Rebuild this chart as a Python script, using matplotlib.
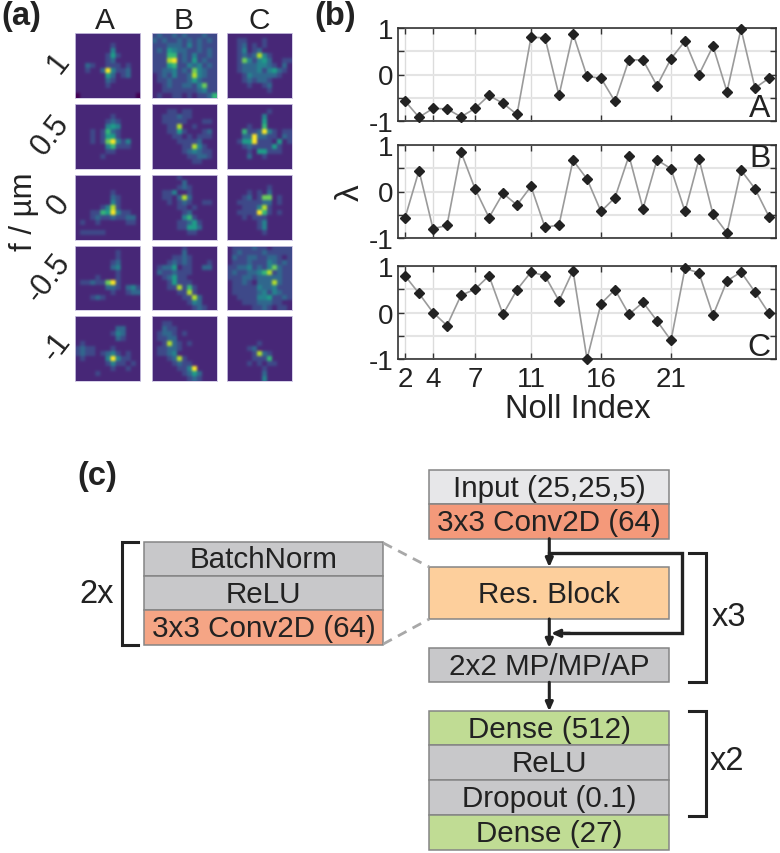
#!/usr/bin/env python3
"""Figure with PSF crops (a), Zernike coefficients (b) and the network layout (c)."""

import numpy as np
import matplotlib
matplotlib.use('Agg')
import matplotlib.pyplot as plt
from matplotlib.patches import Rectangle

plt.rcParams['font.family'] = ['Liberation Sans', 'DejaVu Sans']

W, H = 780, 854

# panel (b): coefficient per Noll index, 2 to 28
noll = list(range(2, 29))
coef_a = [-0.57, -0.92, -0.73, -0.74, -0.91, -0.73, -0.45, -0.62, -0.86, 0.80, 0.79, -0.45, 0.88, -0.04,
          -0.08, -0.58, 0.32, 0.31, -0.24, 0.34, 0.72, 0.00, 0.61, -0.37, 0.98, -0.29, -0.08]
coef_b = [-0.57, 0.45, -0.80, -0.73, 0.85, 0.06, -0.56, -0.04, -0.29, 0.11, -0.77, -0.72, 0.67, 0.27,
          -0.43, -0.13, 0.77, -0.37, 0.68, 0.49, -0.43, 0.70, -0.49, -0.89, 0.46, 0.06, -0.54]
coef_c = [0.79, 0.41, 0.00, -0.28, 0.37, 0.50, 0.79, -0.04, 0.49, 0.87, 0.79, 0.25, 0.90, -1.00,
          0.19, 0.49, -0.04, 0.22, -0.18, -0.60, 0.95, 0.85, -0.06, 0.68, 0.87, 0.44, -0.02]
noll_ticks = [2, 4, 7, 11, 16, 21]

defocus_labels = ['1', '0.5', '0', '-0.5', '-1']
column_labels = ['A', 'B', 'C']

crop_a = [
    ["1111111111111", "1111111111111", "1111111211111", "1111111411111", "1111112521111",
     "1111112311111", "1132112221211", "1121139422311", "1111115312311", "1111113211111",
     "1111112111111", "1111111111111", "0111111111110"],
    ["1111111111111", "1111111111111", "1111111211111", "1111112321111", "1111114541111",
     "1112126321111", "1112125521111", "1112127942411", "1111114622211", "1111112211111",
     "1111121111111", "1111111111111", "1111111111111"],
    ["1111111111111", "1111111111111", "1111111111111", "1111111211111", "1111111321111",
     "1111111421111", "1111124821111", "1112265942211", "1112322322331", "1211211111221",
     "1111111111111", "1222221111111", "1111111111111"],
    ["1111111111111", "1111111121111", "1111111121111", "1111111231111", "1111111341111",
     "1111111121111", "1111211121111", "1223227921111", "1111113321342", "1111111211233",
     "1112321111111", "1111111111111", "1111111111111"],
    ["1111111111111", "1111111111111", "1111111133111", "1111111243111", "1111111132111",
     "1211111111111", "2322111211111", "2322123421211", "1211114942211", "1111112422121",
     "1111111211211", "1111211111111", "1111111111111"],
]
crop_b = [
    ["2322323222322", "3232232323232", "2223332423222", "2325433223232", "2226623242232",
     "2228923252322", "2225622434232", "2233423274322", "1232422384322", "1223222353222",
     "1123223324722", "1122222223422", "1211221212236"],
    ["1111111111111", "1112212211111", "1122232211111", "1122222111221", "1112281121111",
     "1112252111231", "1111221212221", "1111122223111", "1111112284211", "1111112343221",
     "1111111223321", "1111111122111", "1111111111111"],
    ["1111121111111", "1111113111111", "1111123211111", "1122411211111", "1122138311111",
     "1112123211221", "1111122121111", "1111112311111", "1111114621111", "1111122352111",
     "1111122553111", "1111111221111", "1111111111111"],
    ["1111112111111", "1111113111111", "1111223211111", "1112323211121", "1233512211331",
     "1322322211111", "1123522111111", "1112522211111", "1112282621111", "1111122821111",
     "1111112283111", "1111111243111", "1111111123211"],
    ["1111111111111", "1122111111111", "1132211111111", "1233212111111", "1223311111111",
     "1128321211111", "1223321111111", "1223411111111", "1112382111111", "1111232211111",
     "1111122491111", "1111112353111", "1111111232111"],
]
crop_c = [
    ["1111111111111", "1122111211111", "1123121211111", "1124123111111", "1123238421111",
     "1127424531122", "1123334432131", "1123334245321", "1112433333211", "1112323321111",
     "1111211231111", "1111111121111", "1111111111111"],
    ["1111111111111", "1111111121111", "1111111411111", "1111111511111", "1111211611111",
     "1116223942122", "1113393322132", "1125592221512", "1112322225211", "1111215522211",
     "1111311211111", "1111111111111", "1111111111111"],
    ["1111111111111", "1111111111111", "1111111121111", "1111212131111", "1112312771211",
     "1122222331211", "1112224821111", "1122229621211", "1112122211111", "1111112411111",
     "1111112411111", "1111111211111", "1111111111111"],
    ["1222232212222", "1232222322222", "1322332233212", "1222322243232", "2233423247322",
     "2322334682322", "2223323333322", "1223213338322", "1222224334222", "1222223424322",
     "1122224452232", "1112223332211", "1111122321221"],
    ["1111111111111", "1111111111111", "1111111111111", "1111111111111", "1111111111111",
     "1111112111111", "1111231111111", "1111128321111", "1111122261111", "1111212122111",
     "1111111211111", "1111111311111", "1111111411111"],
]

# panel (c): layer names
left_layers = ['BatchNorm', 'ReLU', '3x3 Conv2D (64)']
top_layers = ['Input (25,25,5)', '3x3 Conv2D (64)']
bottom_layers = ['Dense (512)', 'ReLU', 'Dropout (0.1)', 'Dense (27)']


def px_axes(fig, left, top, right, bottom):
    """Axes placed with pixel coordinates measured from the top left"""
    return fig.add_axes([left / W, 1 - bottom / H, (right - left) / W, (bottom - top) / H])


def draw_crop(fig, rows, box):
    ax = px_axes(fig, *box)
    img = np.array([[int(c) for c in row] for row in rows]) / 9
    # doubling the cells keeps the bright spots as wide as in the reference
    img = np.kron(img, np.ones((2, 2)))
    ax.imshow(img, cmap='viridis', vmin=0, vmax=1, interpolation='bicubic', aspect='auto')
    ax.set_xticks([])
    ax.set_yticks([])
    for s in ax.spines.values():
        s.set_color('#cfc8e4')
        s.set_linewidth(0.6)


def draw_coef(fig, values, box, name, name_y, show_x=False):
    ax = px_axes(fig, *box)
    ax.plot(noll, values, color='#9a9a9a', lw=1.2, marker='D', ms=5.5, mfc='#222222', mec='#222222',
            clip_on=False, zorder=3)
    ax.set_xlim(1.5, 28.5)
    ax.set_ylim(-1, 1)
    ax.set_xticks(noll_ticks)
    ax.set_yticks([-1, -0.5, 0, 0.5, 1])
    ax.set_yticklabels(['-1', '', '0', '', '1'], fontsize=20, color='#222222')
    ax.grid(True, axis='x', color='#dcdcdc', lw=1)
    ax.grid(True, axis='y', color='#e4e4e4', lw=1.5)
    ax.set_axisbelow(True)
    ax.tick_params(direction='in', length=4, width=1, top=True, right=True, color='#333333',
                   labelbottom=show_x, labelsize=20, labelcolor='#222222', pad=3)
    ax.tick_params(axis='x', pad=5)
    for s in ax.spines.values():
        s.set_color('#333333')
        s.set_linewidth(1.2)
    ax.text(0.985, name_y, name, transform=ax.transAxes, fontsize=23, color='#222222',
            ha='right', va='center')
    return ax


def draw_stack(ax, names, colors, x0, x1, edges):
    for name, color, top, bottom in zip(names, colors, edges[:-1], edges[1:]):
        ax.add_patch(Rectangle((x0, top), x1 - x0, bottom - top, fc=color, ec='#858585', lw=1.1))
        ax.text((x0 + x1) / 2, (top + bottom) / 2 + 0.5, name, fontsize=21.3, color='#222222',
                ha='center', va='center')


def arrow(ax, start, end, lw=2.2):
    ax.annotate('', xy=end, xytext=start,
                arrowprops=dict(arrowstyle='-|>,head_width=0.22,head_length=0.5', color='#222222',
                                lw=lw, shrinkA=0, shrinkB=0))


def main():
    fig = plt.figure(figsize=(W / 100, H / 100), dpi=100, facecolor='white')

    # background layer in pixels, used for panel (c) and free labels
    bg = fig.add_axes([0, 0, 1, 1])
    bg.set_xlim(0, W)
    bg.set_ylim(H, 0)
    bg.axis('off')

    # panel (a)
    col_x = [(75.3, 140.3), (152, 216.7), (227.3, 292)]
    row_y = [(34.3, 99.3), (105.3, 170), (176, 240.7), (246.7, 311.3), (317.3, 382)]
    for crops, (x0, x1) in zip([crop_a, crop_b, crop_c], col_x):
        for rows, (y0, y1) in zip(crops, row_y):
            draw_crop(fig, rows, (x0, y0, x1, y1))

    for name, x in zip(column_labels, [105, 184, 259]):
        bg.text(x, 21, name, fontsize=21.5, color='#222222', ha='center', va='center')
    for name, x, y in zip(defocus_labels, [59, 50, 59, 49, 57], [63, 135, 205, 278, 347]):
        bg.text(x, y, name, fontsize=22, color='#222222', rotation=52, ha='center', va='center',
                rotation_mode='anchor')
    bg.text(24, 212, 'f / µm', fontsize=22.4, color='#222222', rotation=90, ha='center', va='center')

    # panel (b)
    draw_coef(fig, coef_a, (398, 29, 776, 122), 'A', 0.14)
    draw_coef(fig, coef_b, (398, 146, 776, 239), 'B', 0.86)
    draw_coef(fig, coef_c, (398, 267, 776, 360), 'C', 0.13, show_x=True)
    bg.text(350, 193, 'λ', fontsize=24, color='#222222', rotation=90, ha='center', va='center')
    bg.text(578, 410, 'Noll Index', fontsize=23.6, color='#222222', ha='center', va='center')

    # panel letters
    for name, x, y in zip(['(a)', '(b)', '(c)'], [21, 335, 97], [17, 17, 477]):
        bg.text(x, y, name, fontsize=23.5, fontweight='bold', color='#222222', ha='center', va='center')

    # panel (c): boxes
    grey, conv, green = '#c8c8ca', '#f4997a', '#c0dc94'
    draw_stack(bg, left_layers, [grey, grey, '#f5a585'], 144, 383.3, [542.7, 577, 611.3, 645.7])
    draw_stack(bg, top_layers, ['#e7e7e9', conv], 429.3, 668.7, [471.3, 505.3, 539.7])
    draw_stack(bg, ['Res. Block'], ['#fdcf9c'], 429.3, 668.7, [568.3, 620])
    draw_stack(bg, ['2x2 MP/MP/AP'], [grey], 429.3, 668.7, [649, 683.3])
    draw_stack(bg, bottom_layers, [green, grey, grey, green], 429.3, 668.7, [712.3, 746.3, 781, 816, 850.7])

    # zoom lines from the residual block to its layers
    for y_left, y_right in [(544, 568), (645, 620)]:
        bg.plot([383.3, 429.3], [y_left, y_right], color='#a8a8a8', lw=2, ls=(0, (3.5, 2.5)))

    # arrows
    arrow(bg, (549.3, 539.7), (549.3, 568.3))
    arrow(bg, (549.3, 620), (549.3, 649))
    arrow(bg, (549.3, 683.3), (549.3, 712.3))
    bg.plot([549.3, 682.3, 682.3, 565], [554.3, 554.3, 634.3, 634.3], color='#222222', lw=2.4,
            solid_joinstyle='miter')
    arrow(bg, (570, 634.3), (551, 634.3))

    # brackets and repeat counts
    for x0, x1, y0, y1 in [(689.3, 706, 554, 683.3), (689.3, 706, 712.3, 816.7), (138, 121.7, 542.7, 646)]:
        bg.plot([x0, x1, x1, x0], [y0, y0, y1, y1], color='#222222', lw=2.2, solid_joinstyle='miter')
    for name, x, y in zip(['x3', 'x2', '2x'], [729, 727, 96.7], [618, 762, 595]):
        bg.text(x, y, name, fontsize=23.5, color='#222222', ha='center', va='center')

    plt.savefig('out.png', dpi=100)
    plt.close()


if __name__ == '__main__':
    main()
